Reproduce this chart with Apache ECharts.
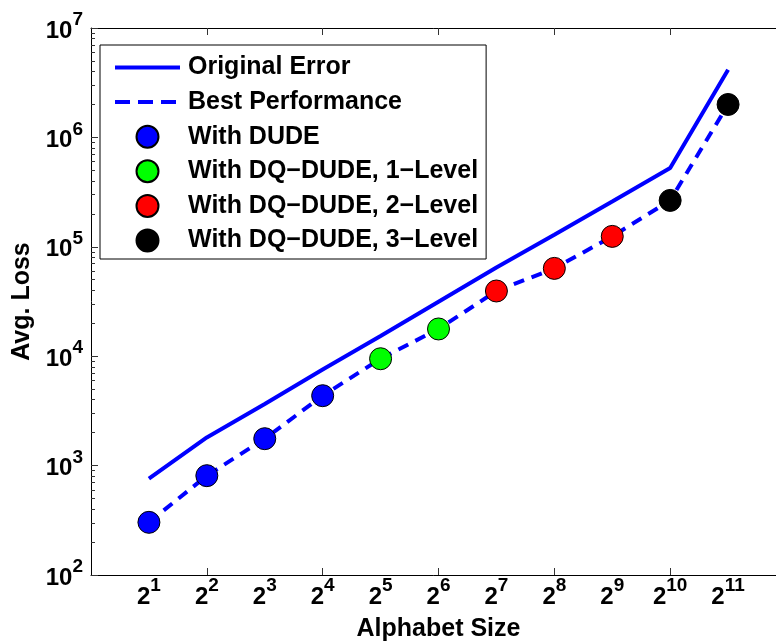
<!DOCTYPE html>
<html>
<head>
<meta charset="utf-8">
<script src="https://cdn.jsdelivr.net/npm/echarts@6/dist/echarts.min.js"></script>
<style>
html,body{margin:0;padding:0;background:#fff;overflow:hidden;}
#chart{width:776px;height:642px;}
</style>
</head>
<body>
<div id="chart"></div>
<script>
// ---- data ----
const exponents = [1, 2, 3, 4, 5, 6, 7, 8, 9, 10, 11];
const originalError = [759, 1810, 3660, 7550, 15300, 31500, 64800, 129000, 259000, 525000, 4160000];
const bestPerformance = [303, 809, 1762, 4355, 9480, 17740, 39450, 63500, 124500, 265500, 2000000];
const dudeX = [1, 2, 3, 4];
const dudeY = [303, 809, 1762, 4355];
const dq1X = [5, 6];
const dq1Y = [9480, 17740];
const dq2X = [7, 8, 9];
const dq2Y = [39450, 63500, 124500];
const dq3X = [10, 11];
const dq3Y = [265500, 2000000];
const xTickValues = [2, 4, 6, 8, 10];
const yMajorTicks = [1e2, 1e3, 1e4, 1e5, 1e6, 1e7];
const yMinorTicks = [];
for (let d = 2; d < 7; d++) { for (let m = 2; m <= 9; m++) yMinorTicks.push(m * Math.pow(10, d)); }
const seriesNames = ['Original Error', 'Best Performance', 'With DUDE',
  'With DQ\u2212DUDE, 1\u2212Level', 'With DQ\u2212DUDE, 2\u2212Level', 'With DQ\u2212DUDE, 3\u2212Level'];

const FONT = 'Liberation Sans';
const zip = (xs, ys) => xs.map((x, i) => [x, ys[i]]);

const chart = echarts.init(document.getElementById('chart'), null, {renderer: 'canvas'});
const axisLineStyle = {color: '#000', width: 1};
const tickStyle = {color: '#333', width: 1};
const supRich = {
  b: {fontFamily: FONT, fontWeight: 'bold', fontSize: 24, color: '#000', lineHeight: 24, padding: [6, 0, 0, 0]},
  s: {fontFamily: FONT, fontWeight: 'bold', fontSize: 19, color: '#000', lineHeight: 19, padding: [0, 0, 16, 0]}
};

const option = {
  animation: false,
  backgroundColor: '#fff',
  grid: {left: 91, top: 28, width: 695, height: 547, containLabel: false, outerBoundsMode: 'none'},
  xAxis: [{
    type: 'value', min: 0, max: 12, interval: 1, position: 'bottom',
    axisLine: {show: true, onZero: false, lineStyle: axisLineStyle},
    axisTick: {show: true, inside: true, length: 7, customValues: xTickValues, lineStyle: tickStyle},
    splitLine: {show: false},
    axisLabel: {
      customValues: exponents, margin: 7,
      formatter: v => '{b|2}{s|' + v + '}',
      rich: supRich
    },
    name: 'Alphabet Size', nameLocation: 'middle', nameGap: 39,
    nameTextStyle: {fontFamily: FONT, fontWeight: 'bold', fontSize: 25, color: '#000'}
  }, {
    type: 'value', min: 0, max: 12, interval: 1, position: 'top',
    axisLine: {show: true, onZero: false, lineStyle: axisLineStyle},
    axisTick: {show: true, inside: true, length: 7, customValues: xTickValues, lineStyle: tickStyle},
    axisLabel: {show: false}, splitLine: {show: false}
  }],
  yAxis: [{
    type: 'log', logBase: 10, min: 100, max: 1e7, position: 'left',
    axisLine: {show: true, onZero: false, lineStyle: axisLineStyle},
    axisTick: {show: true, inside: true, length: 7, customValues: yMajorTicks, lineStyle: tickStyle},
    splitLine: {show: false},
    axisLabel: {
      customValues: yMajorTicks, margin: 8,
      formatter: v => '{b|10}{s|' + Math.round(Math.log10(v)) + '}',
      rich: supRich
    },
    name: 'Avg. Loss', nameLocation: 'middle', nameGap: 51,
    nameTextStyle: {fontFamily: FONT, fontWeight: 'bold', fontSize: 25, color: '#000'}
  }, {
    type: 'log', logBase: 10, min: 100, max: 1e7, position: 'left',
    axisLine: {show: false},
    axisTick: {show: true, inside: true, length: 4, customValues: yMinorTicks, lineStyle: tickStyle},
    axisLabel: {show: false}, splitLine: {show: false}
  }],
  legend: {
    orient: 'vertical', left: 100, top: 45, align: 'left',
    data: [
      {name: seriesNames[0], itemStyle: {opacity: 0}, lineStyle: {width: 4}},
      {name: seriesNames[1], itemStyle: {opacity: 0}, lineStyle: {width: 4, type: [15, 8]}},
      {name: seriesNames[2]},
      {name: seriesNames[3]},
      {name: seriesNames[4]},
      {name: seriesNames[5]}
    ],
    itemWidth: 65, itemHeight: 22, itemGap: 9.6,
    padding: [10, 8, 6, 13],
    backgroundColor: '#fff', borderColor: '#000', borderWidth: 1,
    textStyle: {fontFamily: FONT, fontWeight: 'bold', fontSize: 25, color: '#000', lineHeight: 24, padding: [0, 0, 0, 3]}
  },
  series: [{
    name: seriesNames[0], type: 'line', data: zip(exponents, originalError),
    symbol: 'none', lineStyle: {color: '#0000ff', width: 4}, itemStyle: {color: '#0000ff'}, z: 2
  }, {
    name: seriesNames[1], type: 'line', data: zip(exponents, bestPerformance),
    symbol: 'none', lineStyle: {color: '#0000ff', width: 4, type: [11, 8]}, itemStyle: {color: '#0000ff'}, z: 2
  }, {
    name: seriesNames[2], type: 'scatter', data: zip(dudeX, dudeY), symbol: 'circle', symbolSize: 22,
    itemStyle: {color: '#0000ff', borderColor: '#000', borderWidth: 1, opacity: 1}, z: 3
  }, {
    name: seriesNames[3], type: 'scatter', data: zip(dq1X, dq1Y), symbol: 'circle', symbolSize: 22,
    itemStyle: {color: '#00ff00', borderColor: '#000', borderWidth: 1, opacity: 1}, z: 3
  }, {
    name: seriesNames[4], type: 'scatter', data: zip(dq2X, dq2Y), symbol: 'circle', symbolSize: 22,
    itemStyle: {color: '#ff0000', borderColor: '#000', borderWidth: 1, opacity: 1}, z: 3
  }, {
    name: seriesNames[5], type: 'scatter', data: zip(dq3X, dq3Y), symbol: 'circle', symbolSize: 22,
    itemStyle: {color: '#000000', borderColor: '#000', borderWidth: 1, opacity: 1}, z: 3
  }]
};
chart.setOption(option);
</script>
</body>
</html>
